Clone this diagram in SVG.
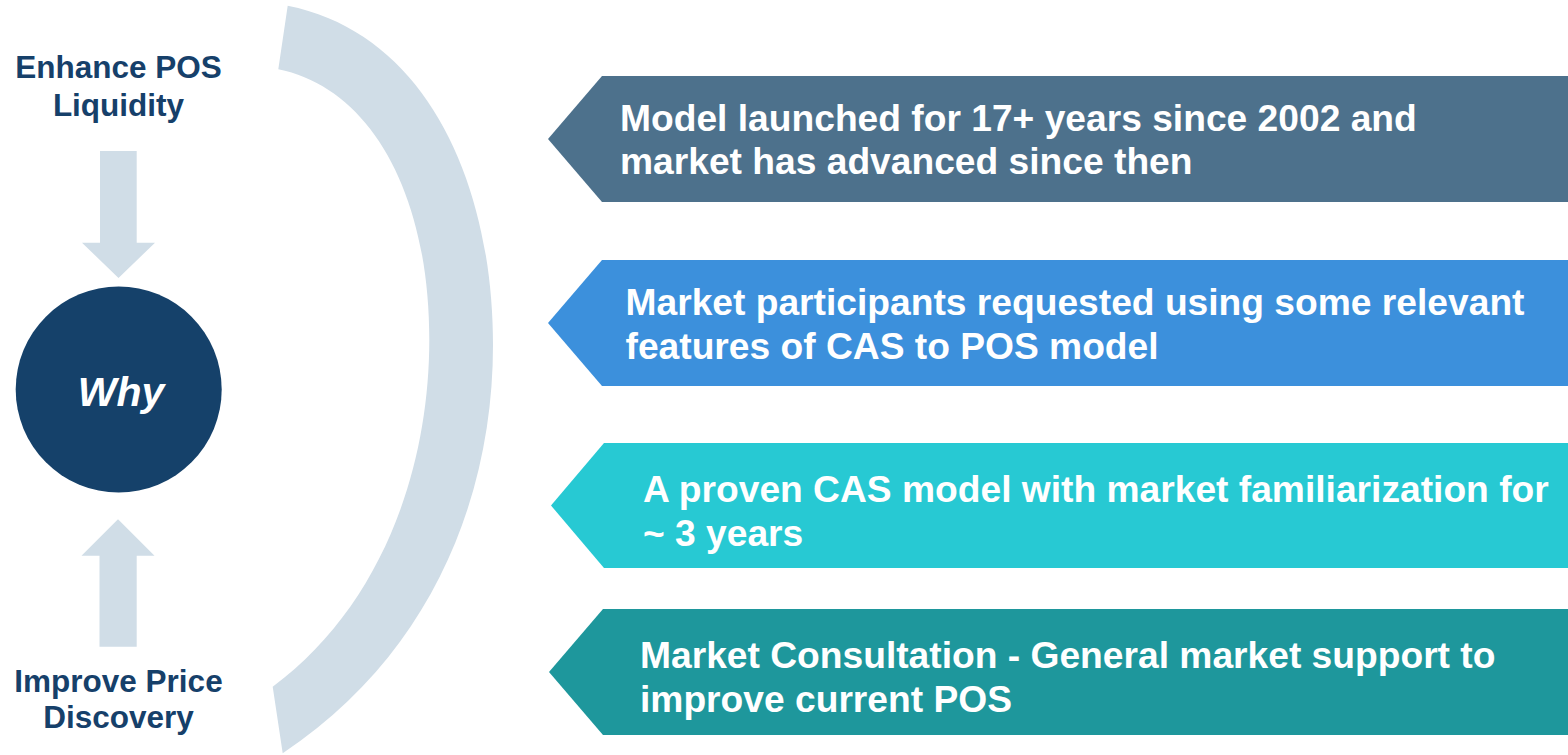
<svg xmlns="http://www.w3.org/2000/svg" width="1568" height="755" viewBox="0 0 1568 755">
  <style>
    .label { font-family: "Liberation Sans", Arial, sans-serif; font-weight: bold; fill: #16406A; font-size: 31.5px; text-anchor: middle; }
    .why { font-family: "Liberation Sans", Arial, sans-serif; font-weight: bold; font-style: italic; fill: #FFFFFF; font-size: 41px; text-anchor: middle; }
    .point { font-family: "Liberation Sans", Arial, sans-serif; font-weight: bold; fill: #FFFFFF; font-size: 37.2px; }
    .pale { fill: #D0DDE7; }
  </style>

  <rect width="1568" height="755" fill="#FFFFFF"/>

  <!-- curved bracket separating the hub from the list of reasons -->
  <path id="bracket" class="pale" d="M287.7,5.7
    C427.7,33.7 493,185 493,345
    C493,495 432.7,653.3 282.7,753.3
    L272.7,686.7
    C380.7,606.7 429.3,470 429.3,340
    C429.3,190 368.3,87.3 278.3,69.3 Z"/>

  <!-- hub -->
  <g id="node-why">
    <circle cx="118.7" cy="389.5" r="103" fill="#15416A"/>
    <text class="why" x="121" y="406">Why</text>
  </g>

  <g id="node-liquidity">
    <text class="label" x="118.5" y="77.7">Enhance POS</text>
    <text class="label" x="118.5" y="116">Liquidity</text>
  </g>

  <g id="node-price-discovery">
    <text class="label" x="118.5" y="691.7">Improve Price</text>
    <text class="label" x="118.5" y="727.7">Discovery</text>
  </g>

  <!-- block arrows pointing into the hub -->
  <g id="connectors" class="pale">
    <polygon points="100,151 136.7,151 136.7,242.7 155,242.7 118.5,278 82,242.7 100,242.7"/>
    <polygon points="118,519.3 154.5,555.7 136.7,555.7 136.7,646.7 99.5,646.7 99.5,555.7 81.5,555.7"/>
  </g>

  <!-- reasons, as left-pointing pentagons -->
  <g id="reason-1">
    <polygon points="602,76 1568,76 1568,202 602,202 548,139" fill="#4D718C"/>
    <text class="point" x="620" y="131">Model launched for 17+ years since 2002 and</text>
    <text class="point" x="620" y="174">market has advanced since then</text>
  </g>

  <g id="reason-2">
    <polygon points="602,260 1568,260 1568,386 602,386 548,323" fill="#3C90DC"/>
    <text class="point" x="625.5" y="315">Market participants requested using some relevant</text>
    <text class="point" x="625.5" y="358.5">features of CAS to POS model</text>
  </g>

  <g id="reason-3">
    <polygon points="604,443 1568,443 1568,568 604,568 551,505.5" fill="#27C9D3"/>
    <text class="point" x="643" y="502">A proven CAS model with market familiarization for</text>
    <text class="point" x="643" y="546">~ 3 years</text>
  </g>

  <g id="reason-4">
    <polygon points="603,609 1568,609 1568,735 603,735 549,672" fill="#1E979C"/>
    <text class="point" x="640" y="668">Market Consultation - General market support to</text>
    <text class="point" x="640" y="711.5">improve current POS</text>
  </g>
</svg>
